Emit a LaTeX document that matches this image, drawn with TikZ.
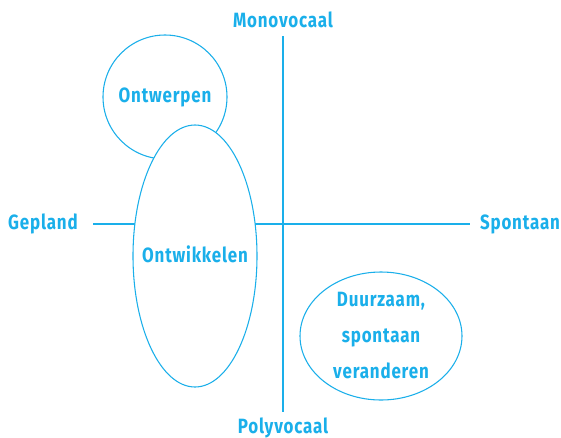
\documentclass[tikz,border=0pt]{standalone}
\usepackage{fontspec}
\setmainfont{Fira Sans}[FakeStretch=0.82,LetterSpace=4]
\usepackage{xcolor}
\usepackage{tikz}
\usetikzlibrary{shapes.geometric,positioning,calc}
\definecolor{VCCyan}  {HTML}{1AAFEA}
\definecolor{VCWhite} {HTML}{FFFFFF}
\tikzset{
  vctext/.style={font=\fontsize{15.5}{27}\selectfont\bfseries,text=VCCyan,inner sep=0pt,align=center},
  axisline/.style={draw=VCCyan,line width=0.8pt},
  zone/.style={ellipse,draw=VCCyan,line width=0.8pt,fill=VCWhite,inner sep=0pt}
}

\begin{document}
\begin{tikzpicture}[x=0.75pt,y=-0.75pt]
    \useasboundingbox (0,0) rectangle (561,437);
    % labels at the ends of the two axes
    \node[vctext] (mono)     at (283,20)  {Monovocaal};
    \node[vctext] (poly)     at (283,428) {Polyvocaal};
    \node[vctext] (gepland)  at (43,224)  {Gepland};
    \node[vctext] (spontaan) at (520,224) {Spontaan};
    \coordinate (top)   at (283,36);
    \coordinate (bot)   at (283,412);
    \coordinate (left)  at (93,224);
    \coordinate (right) at (470,224);
    \draw[axisline] (top) -- (bot);
    \draw[axisline] (left) -- (right);
    % the three zones, the big ellipse covers the circle
    \node[zone,circle,minimum size=93pt] (ontwerpen) at (165,97) {};
    \node[zone,minimum width=93pt,minimum height=196.5pt] (ontwikkelen) at (195,256) {};
    \node[zone,minimum width=121.5pt,minimum height=96pt] (duurzaam) at (381,336) {};
    \node[vctext] at (ontwerpen.center) {Ontwerpen};
    \node[vctext] at ($(ontwikkelen.center)+(0,-2)$) {Ontwikkelen};
    \node[vctext] at (duurzaam.center) {Duurzaam,\\spontaan\\veranderen};
\end{tikzpicture}
\end{document}
